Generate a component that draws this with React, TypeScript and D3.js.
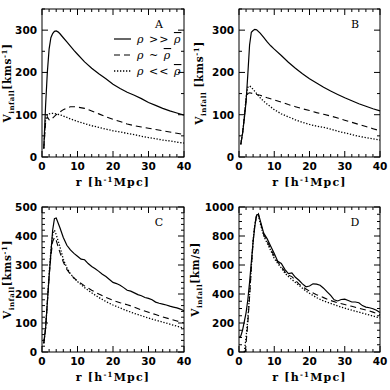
import React from 'react';
import * as d3 from 'd3';

// Infall velocity profiles, four panels (A-D), three density regimes each.

const rA_s = [0.5, 1, 1.5, 2, 2.5, 3, 3.5, 4, 4.5, 5, 6, 7, 8, 9, 10, 12, 14, 16, 18, 20, 22, 24, 26, 28, 30, 32, 34, 36, 38, 40];
const vA_s = [20, 120, 200, 255, 282, 292, 297, 298, 296, 292, 282, 272, 262, 252, 243, 225, 210, 197, 185, 172, 162, 153, 146, 138, 129, 122, 115, 109, 104, 99];
const rA_d = [0.5, 1, 1.5, 2, 2.5, 3, 4, 5, 6, 7, 8, 9, 10, 12, 14, 16, 18, 20, 22, 24, 26, 28, 30, 32, 34, 36, 38, 40];
const vA_d = [20, 80, 95, 88, 87, 92, 100, 106, 112, 116, 119, 119, 118, 115, 109, 102, 95, 89, 84, 78, 74, 71, 68, 65, 62, 59, 56, 53];
const rA_o = [0.5, 1, 1.5, 2, 2.5, 3, 4, 5, 6, 8, 10, 12, 14, 16, 18, 20, 22, 24, 26, 28, 30, 32, 34, 36, 38, 40];
const vA_o = [20, 90, 100, 102, 103, 103, 102, 100, 97, 90, 84, 79, 74, 70, 66, 62, 59, 56, 53, 49, 46, 43, 40, 38, 35, 33];

const rB_s = [0.5, 1, 1.5, 2, 2.5, 3, 3.5, 4, 4.5, 5, 6, 7, 8, 9, 10, 12, 14, 16, 18, 20, 22, 24, 26, 28, 30, 32, 34, 36, 38, 40];
const vB_s = [30, 55, 90, 130, 195, 265, 295, 299, 302, 301, 293, 283, 272, 263, 255, 240, 224, 210, 197, 185, 175, 165, 156, 148, 140, 133, 126, 120, 114, 109];
const rB_d = [0.5, 1, 1.5, 2, 2.5, 3, 4, 5, 6, 8, 10, 12, 14, 16, 18, 20, 22, 24, 26, 28, 30, 32, 34, 36, 38, 40];
const vB_d = [30, 55, 95, 135, 150, 152, 150, 148, 146, 140, 135, 130, 124, 119, 114, 110, 105, 101, 97, 92, 87, 82, 77, 72, 67, 62];
const rB_o = [0.5, 1, 1.5, 2, 2.5, 3, 3.5, 4, 5, 6, 7, 8, 10, 12, 14, 16, 18, 20, 22, 24, 26, 28, 30, 32, 34, 36, 38, 40];
const vB_o = [30, 55, 95, 140, 165, 168, 165, 160, 150, 140, 132, 125, 112, 102, 95, 88, 82, 77, 73, 70, 66, 61, 57, 53, 49, 46, 43, 40];

const rC_s = [0.5, 1, 1.5, 2, 2.5, 3, 3.5, 4, 5, 6, 7, 8, 9, 10, 11, 12, 13, 14, 15, 16, 17, 18, 19, 20, 21, 22, 23, 24, 25, 26, 27, 28, 29, 30, 31, 32, 33, 34, 35, 36, 37, 38, 39, 40];
const vC_s = [30, 80, 170, 260, 340, 420, 460, 462, 430, 395, 368, 352, 340, 330, 320, 318, 305, 295, 287, 278, 268, 260, 250, 240, 236, 230, 222, 213, 210, 204, 198, 194, 188, 185, 180, 172, 168, 165, 162, 158, 155, 152, 148, 142];
const rC_d = [0.5, 1, 1.5, 2, 2.5, 3, 3.5, 4, 5, 6, 7, 8, 9, 10, 12, 14, 16, 18, 20, 22, 24, 26, 28, 30, 32, 34, 36, 38, 40];
const vC_d = [30, 80, 170, 260, 330, 380, 395, 385, 345, 310, 285, 268, 255, 245, 228, 213, 200, 188, 178, 170, 163, 155, 145, 137, 129, 121, 114, 107, 100];
const rC_o = [0.5, 1, 1.5, 2, 2.5, 3, 3.5, 4, 5, 6, 7, 8, 9, 10, 12, 14, 16, 18, 20, 22, 24, 26, 28, 30, 32, 34, 36, 38, 40];
const vC_o = [30, 80, 170, 270, 350, 405, 420, 405, 365, 320, 290, 270, 255, 243, 222, 204, 188, 174, 162, 152, 142, 133, 125, 117, 110, 103, 96, 89, 82];

const rD_s = [0, 0.5, 1, 1.5, 2, 2.5, 3, 3.5, 4, 4.5, 5, 5.5, 6, 7, 8, 9, 10, 11, 12, 13, 14, 15, 16, 17, 18, 19, 20, 21, 22, 23, 24, 25, 26, 27, 28, 29, 30, 31, 32, 33, 34, 35, 36, 37, 38, 39, 40];
const vD_s = [100, 110, 150, 210, 270, 360, 480, 620, 760, 870, 945, 950, 910, 820, 780, 730, 680, 625, 610, 570, 540, 545, 515, 495, 470, 450, 455, 470, 468, 460, 440, 415, 390, 360, 352, 362, 365, 355, 345, 345, 340, 320, 310, 305, 298, 288, 272];
const rD_d = [1.8, 2.5, 3, 3.5, 4, 4.5, 5, 5.5, 6, 7, 8, 9, 10, 11, 12, 13, 14, 15, 16, 17, 18, 19, 20, 22, 24, 26, 28, 30, 32, 34, 36, 38, 40];
const vD_d = [0, 200, 380, 580, 760, 880, 950, 955, 900, 810, 765, 710, 660, 620, 590, 555, 530, 520, 495, 470, 450, 435, 420, 395, 375, 355, 340, 327, 315, 302, 290, 275, 258];
const rD_o = [1.5, 2, 2.5, 3, 3.5, 4, 4.5, 5, 5.5, 6, 7, 8, 9, 10, 11, 12, 13, 14, 15, 16, 17, 18, 19, 20, 22, 24, 26, 28, 30, 32, 34, 36, 38, 40];
const vD_o = [0, 100, 230, 400, 590, 770, 880, 940, 940, 890, 800, 750, 700, 645, 610, 580, 545, 520, 500, 480, 460, 440, 420, 405, 375, 352, 335, 318, 302, 288, 275, 262, 248, 235];

const panelLetters = ['A', 'B', 'C', 'D'];
const yMaxes = [350, 350, 500, 1000];
const yMajor = [100, 100, 100, 200];
const yMinor = [50, 50, 20, 50];
const yUnits = ['kms⁻¹', 'kms⁻¹', 'kms⁻¹', 'km/s'];
const legendLabels = ['>>', '~', '<<'];

const STYLES = [
  { dash: null, width: 1.2 },
  { dash: '6,4', width: 1.1 },
  { dash: '1.3,1.7', width: 1.3 },
];

const cols = [{ x0: 42, x1: 184 }, { x0: 239, x1: 380 }];
const rows = [{ y0: 9, y1: 157 }, { y0: 207, y1: 352 }];
const yLabelOffset = [31, 36, 31, 40];

const series = [
  [[rA_s, vA_s], [rA_d, vA_d], [rA_o, vA_o]],
  [[rB_s, vB_s], [rB_d, vB_d], [rB_o, vB_o]],
  [[rC_s, vC_s], [rC_d, vC_d], [rC_o, vC_o]],
  [[rD_s, vD_s], [rD_d, vD_d], [rD_o, vD_o]],
];

const NUM_FONT = '"DejaVu Sans", sans-serif';
const LBL_FONT = '"DejaVu Serif", serif';

function Panel({ idx }: { idx: number }) {
  const c = cols[idx % 2];
  const r = rows[Math.floor(idx / 2)];
  const x = d3.scaleLinear().domain([0, 40]).range([c.x0, c.x1]);
  const y = d3.scaleLinear().domain([0, yMaxes[idx]]).range([r.y1, r.y0]);
  const line = d3.line<[number, number]>().x((d) => x(d[0])).y((d) => y(d[1]));

  const xMinorT = d3.range(0, 40.01, 2);
  const xMajorT = d3.range(0, 40.01, 10);
  const yMinorT = d3.range(0, yMaxes[idx] + 0.01, yMinor[idx]);
  const yMajorT = d3.range(0, yMaxes[idx] + 0.01, yMajor[idx]);
  const isMajX = (t: number) => t % 10 === 0;
  const isMajY = (t: number) => t % yMajor[idx] === 0;
  const midY = (r.y0 + r.y1) / 2;

  return (
    <g>
      <rect x={c.x0} y={r.y0} width={c.x1 - c.x0} height={r.y1 - r.y0} fill="none" stroke="#000" strokeWidth={1} />
      {xMinorT.map((t) => {
        const L = isMajX(t) ? 6 : 3;
        return (
          <g key={'x' + t} stroke="#000" strokeWidth={1}>
            <line x1={x(t)} x2={x(t)} y1={r.y1} y2={r.y1 - L} />
            <line x1={x(t)} x2={x(t)} y1={r.y0} y2={r.y0 + L} />
          </g>
        );
      })}
      {yMinorT.map((t) => {
        const L = isMajY(t) ? 6 : 3;
        return (
          <g key={'y' + t} stroke="#000" strokeWidth={1}>
            <line x1={c.x0} x2={c.x0 + L} y1={y(t)} y2={y(t)} />
            <line x1={c.x1} x2={c.x1 - L} y1={y(t)} y2={y(t)} />
          </g>
        );
      })}
      {xMajorT.map((t) => (
        <text key={'xl' + t} x={x(t)} y={r.y1 + 13} textAnchor="middle" fontFamily={NUM_FONT} fontWeight="bold" fontSize={10.5}>
          {t}
        </text>
      ))}
      {yMajorT.map((t) => (
        <text key={'yl' + t} x={c.x0 - 5} y={y(t) + 4} textAnchor="end" fontFamily={NUM_FONT} fontWeight="bold" fontSize={10.5}>
          {t}
        </text>
      ))}
      <text x={(c.x0 + c.x1) / 2} y={r.y1 + 29} textAnchor="middle" fontFamily={LBL_FONT} fontWeight="bold" fontSize={11} letterSpacing={1.2}>
        r [h
        <tspan fontSize={7} dy={-4}>-1</tspan>
        <tspan dy={4}>Mpc]</tspan>
      </text>
      <text
        transform={`translate(${c.x0 - yLabelOffset[idx]},${midY}) rotate(-90)`}
        textAnchor="middle"
        fontFamily={LBL_FONT}
        fontWeight="bold"
        fontSize={10.5}
        letterSpacing={0.6}
      >
        V
        <tspan fontSize={7} dy={3}>infall</tspan>
        <tspan dy={-3}>{idx === 1 ? ' ' : ''}[{yUnits[idx].replace('⁻¹', '')}</tspan>
        {yUnits[idx].includes('⁻¹') ? (
          <>
            <tspan fontSize={7} dy={-4}>-1</tspan>
            <tspan dy={4}>]</tspan>
          </>
        ) : (
          <tspan>]</tspan>
        )}
      </text>
      <text x={c.x1 - 25} y={r.y0 + 19} textAnchor="middle" fontFamily={LBL_FONT} fontSize={11}>
        {panelLetters[idx]}
      </text>
      {series[idx].map(([rs, vs], k) => (
        <path
          key={k}
          d={line(rs.map((rv, i) => [rv, vs[i]] as [number, number])) || ''}
          fill="none"
          stroke="#000"
          strokeWidth={STYLES[k].width}
          strokeDasharray={STYLES[k].dash || undefined}
        />
      ))}
      {idx === 0 &&
        legendLabels.map((lab, k) => {
          const ly = r.y0 + 30 + k * 16;
          return (
            <g key={'lg' + k}>
              <line x1={c.x1 - 70} x2={c.x1 - 53} y1={ly} y2={ly} stroke="#000" strokeWidth={STYLES[k].width} strokeDasharray={STYLES[k].dash || undefined} />
              <text x={c.x1 - 47} y={ly + 4} fontFamily={LBL_FONT} fontSize={11} letterSpacing={1}>
                <tspan fontStyle="italic">ρ</tspan>
                <tspan>{' ' + lab + ' '}</tspan>
                <tspan fontStyle="italic" style={{ textDecoration: 'overline' }}>ρ</tspan>
              </text>
            </g>
          );
        })}
    </g>
  );
}

export default function App() {
  return (
    <svg width={390} height={390} style={{ position: 'absolute', left: 0, top: 0, background: '#fff' }}>
      {[0, 1, 2, 3].map((i) => (
        <Panel key={i} idx={i} />
      ))}
    </svg>
  );
}
